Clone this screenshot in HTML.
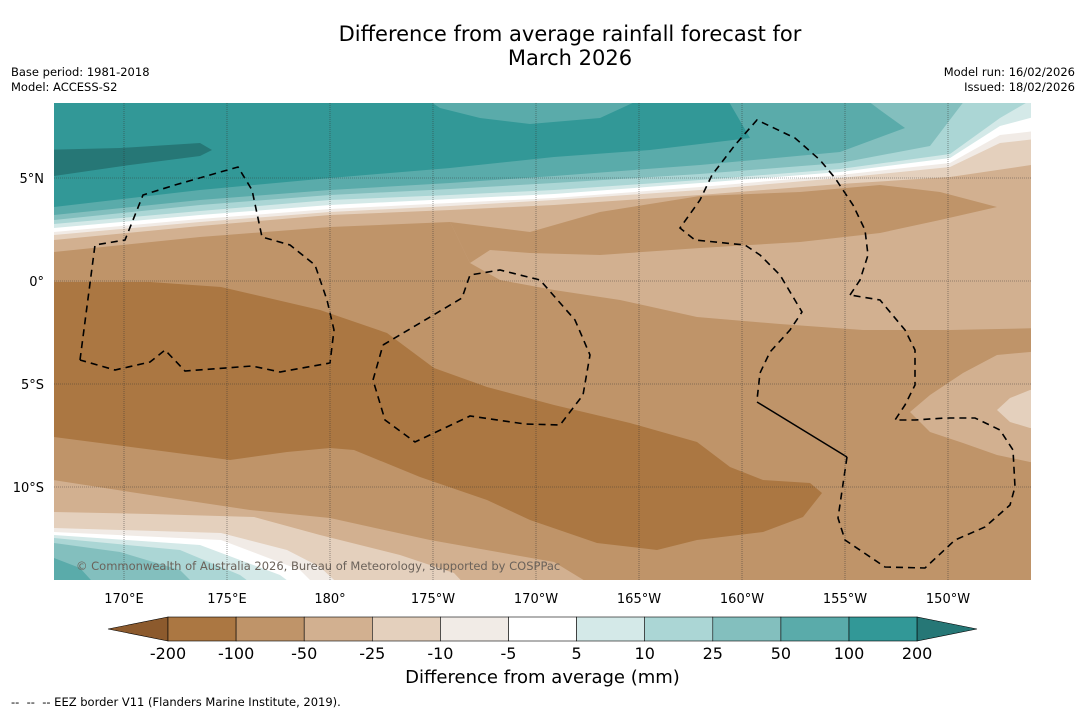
<!DOCTYPE html>
<html><head><meta charset="utf-8">
<style>
body{margin:0;width:1085px;height:713px;background:#fff;font-family:"Liberation Sans","DejaVu Sans",sans-serif;position:relative;overflow:hidden}
.t{position:absolute;white-space:nowrap;color:#000}
</style></head><body>
<div class="t" style="left:0;width:1140px;text-align:center;top:22px;font-size:21px;line-height:24px;font-family:'DejaVu Sans',sans-serif">Difference from average rainfall forecast for<br>March 2026</div>
<div class="t" style="left:11px;top:65px;font-size:11.5px;line-height:15px;font-family:'DejaVu Sans',sans-serif">Base period: 1981-2018<br>Model: ACCESS-S2</div>
<div class="t" style="right:10px;top:65px;font-size:11.5px;line-height:15px;text-align:right;font-family:'DejaVu Sans',sans-serif">Model run: 16/02/2026<br>Issued: 18/02/2026</div>
<svg id="map" width="1085" height="713" style="position:absolute;left:0;top:0" xmlns="http://www.w3.org/2000/svg">
<defs><clipPath id="c"><rect x="54" y="103" width="977" height="477"/></clipPath></defs>
<g clip-path="url(#c)" id="layers"></g>
<g id="axes"></g>
<g id="cbar"></g>
</svg>
<div class="t" style="left:76px;top:559px;font-size:11.5px;color:#6b625a;font-family:'DejaVu Sans',sans-serif">© Commonwealth of Australia 2026, Bureau of Meteorology, supported by COSPPac</div>
<div class="t" style="left:0;width:1085px;text-align:center;top:667px;font-size:18px;font-family:'DejaVu Sans',sans-serif">Difference from average (mm)</div>
<div class="t" style="left:11px;top:695px;font-size:11.5px;font-family:'DejaVu Sans',sans-serif">--&nbsp; --&nbsp; -- EEZ border V11 (Flanders Marine Institute, 2019).</div>
<script>
const binLabels=["-200","-100","-50","-25","-10","-5","5","10","25","50","100","200"];
const binColors=["#ab7742","#bf9469","#d2b090","#e4d0bd","#f1ebe6","#ffffff","#d4e9e8","#abd6d5","#83bfbe","#5aabaa","#329897"];
const lonLabels=["170°E","175°E","180°","175°W","170°W","165°W","160°W","155°W","150°W"];
const lonValues=[170,175,180,185,190,195,200,205,210];
const latLabels=["5°N","0°","5°S","10°S"];
const latValues=[5,0,-5,-10];
const NS="http://www.w3.org/2000/svg";
const lonX=l=>124+(l-170)*20.6;
const latY=v=>281-v*20.6;
const C={m200:"#ab7742",m100:"#bf9469",m50:"#d2b090",m25:"#e4d0bd",m10:"#f1ebe6",w:"#ffffff",p5:"#d4e9e8",p10:"#abd6d5",p25:"#83bfbe",p50:"#5aabaa",p100:"#329897",p200:"#267776"};
function el(tag,attrs,parent){const e=document.createElementNS(NS,tag);for(const k in attrs)e.setAttribute(k,attrs[k]);parent.appendChild(e);return e;}
const L=document.getElementById('layers');
function poly(pts,fill,name){const p=el('polygon',{points:pts.map(q=>q.join(',')).join(' '),fill:fill},L);

}
function topTo(line,fill,name){poly([[40,90],...line,[1045,90]],fill,name);}
poly([[40,90],[1045,90],[1045,600],[40,600]],C.m100,'region-minus100');
poly([[40,90],[1045,90],[1045,328],[950,330],[863,330],[780,324],[697,317],[620,300],[554,290],[500,280],[470,263],[450,222],[330,227],[200,237],[54,252],[40,253]],C.m50,'region-minus50-north');
poly([[470,263],[450,222],[530,232],[600,212],[700,196],[800,192],[880,185],[940,192],[997,207],[940,220],[880,233],[800,242],[700,248],[600,255],[530,253],[490,250]],C.m100,'band-minus100-north');
topTo([[40,241],[54,240],[200,226],[330,215],[450,210],[554,205],[700,195],[840,184],[950,177],[1031,165],[1045,165]],C.m25,'band-minus25');
topTo([[40,236],[54,235],[200,222],[330,212],[450,206],[554,200],[700,190],[840,178],[950,167],[1000,143],[1045,138]],C.m10,'band-minus10');
topTo([[40,233],[54,232],[200,219],[330,209],[450,203],[554,198],[700,187],[840,175],[950,163],[1000,135],[1045,130]],C.w,'band-neutral');
topTo([[40,229],[54,228],[200,215],[330,205],[450,199],[554,194],[700,183],[840,172],[950,158],[1000,126],[1045,114]],C.p5,'band-plus5');
topTo([[40,225],[54,224],[200,211],[330,200],[450,195],[554,190],[700,180],[840,169],[950,154],[1000,118],[1031,100]],C.p10,'band-plus10');
topTo([[40,221],[54,220],[200,205],[330,195],[450,189],[554,183],[700,174],[840,163],[930,146],[965,100]],C.p25,'band-plus25');
topTo([[40,216],[54,215],[200,200],[330,190],[450,183],[554,176],[700,165],[840,152],[905,128],[880,110],[860,95]],C.p50,'band-plus50');
topTo([[40,208],[54,207],[200,190],[330,178],[450,168],[554,157],[650,150],[750,138],[725,95]],C.p100,'band-plus100');
poly([[420,95],[440,108],[480,118],[530,124],[600,118],[650,95]],C.p50,'patch-plus50');
poly([[40,150],[120,148],[200,143],[212,150],[200,156],[130,165],[40,178]],C.p200,'patch-plus200');
poly([[40,282],[150,282],[221,287],[320,310],[387,333],[434,368],[487,387],[554,405],[630,423],[697,442],[730,467],[763,480],[810,483],[822,493],[803,517],[763,532],[697,540],[657,550],[597,543],[530,520],[487,500],[420,477],[354,450],[330,448],[287,452],[230,460],[154,450],[54,437],[40,436]],C.m200,'band-minus200');
poly([[40,478],[150,495],[250,510],[330,518],[430,540],[554,562],[600,590],[40,590]],C.m50,'region-minus50-south');
poly([[40,511],[54,512],[150,514],[254,517],[320,535],[400,555],[454,573],[470,590],[40,590]],C.m25,'band-minus25-south');
poly([[40,527],[54,528],[221,533],[287,550],[320,567],[345,590],[40,590]],C.m10,'band-minus10-south');
poly([[40,531],[54,532],[221,540],[300,570],[320,590],[40,590]],C.w,'band-neutral-south');
poly([[40,534],[54,535],[200,545],[280,575],[300,590],[40,590]],C.p5,'band-plus5-south');
poly([[40,537],[54,538],[180,550],[240,575],[260,590],[40,590]],C.p10,'band-plus10-south');
poly([[40,543],[54,543],[120,552],[180,570],[200,590],[40,590]],C.p25,'band-plus25-south');
poly([[40,558],[54,558],[80,568],[100,590],[40,590]],C.p50,'band-plus50-south');
poly([[1045,351],[1030,352],[997,355],[963,373],[930,395],[910,412],[930,432],[963,443],[997,455],[1030,462],[1045,463]],C.m50,'patch-minus50-east');
poly([[1045,389],[1030,390],[1010,398],[997,410],[1010,422],[1030,428],[1045,428]],C.m25,'patch-minus25-east');
const eez=[
[[80,360],[95,245],[125,240],[143,195],[175,185],[238,167],[252,190],[262,237],[290,245],[315,265],[327,300],[334,330],[330,363],[280,372],[252,366],[185,371],[165,350],[150,362],[115,370],[80,360]],
[[383,345],[462,298],[470,275],[500,270],[540,280],[575,320],[590,355],[583,395],[560,425],[525,424],[470,416],[415,442],[385,420],[373,380],[383,345]],
[[850,295],[860,280],[868,255],[865,230],[853,205],[835,178],[820,160],[795,138],[757,120],[735,145],[712,175],[700,200],[680,228],[695,240],[745,245],[760,255],[780,275],[802,312],[790,330],[770,352],[760,373],[757,400]],
[[847,457],[838,518],[845,540],[885,567],[925,568],[955,540],[985,527],[1010,505],[1015,487],[1013,450],[1000,430],[975,418],[945,418],[915,420],[895,420],[905,405],[915,385],[915,350],[905,330],[880,300],[850,295]]];
eez.forEach((pl,i)=>{const p=el('polyline',{points:pl.map(q=>q.join(',')).join(' '),fill:'none',stroke:'#000','stroke-width':1.6,'stroke-dasharray':'7,5'},L);

});
const sl=el('line',{x1:757,y1:402,x2:847,y2:457,stroke:'#000','stroke-width':1.5},L);


const A=document.getElementById('axes');
lonValues.forEach((v,i)=>{const x=lonX(v);
const g=el('line',{x1:x,y1:103,x2:x,y2:580,stroke:'#333','stroke-width':0.6,'stroke-dasharray':'1,1','stroke-opacity':0.8},A);


const t=el('text',{x:x,y:603,'font-size':13,'text-anchor':'middle','font-family':'DejaVu Sans, sans-serif'},A);t.textContent=lonLabels[i];

});
latValues.forEach((v,i)=>{const y=latY(v);
const g=el('line',{x1:54,y1:y,x2:1031,y2:y,stroke:'#333','stroke-width':0.6,'stroke-dasharray':'1,1','stroke-opacity':0.8},A);


const t=el('text',{x:44,y:y+5,'font-size':13,'text-anchor':'end','font-family':'DejaVu Sans, sans-serif'},A);t.textContent=latLabels[i];

});
const B=document.getElementById('cbar');
const x0=168,w=68.1,y0=617,h=24;
const lt=el('polygon',{points:`${x0},${y0} ${x0},${y0+h} 108,${y0+h/2}`,fill:'#8c5a2d',stroke:'#000','stroke-width':0.6},B);


binColors.forEach((c,i)=>{const r=el('rect',{x:x0+i*w,y:y0,width:w,height:h,fill:c,stroke:'#000','stroke-width':0.6},B);

});
const xe=x0+binColors.length*w;
const rt=el('polygon',{points:`${xe},${y0} ${xe},${y0+h} 977,${y0+h/2}`,fill:'#267776',stroke:'#000','stroke-width':0.6},B);


binLabels.forEach((s,i)=>{const t=el('text',{x:x0+i*w,y:659,'font-size':16,'text-anchor':'middle','font-family':'DejaVu Sans, sans-serif'},B);t.textContent=s;

});
</script>
</body></html>
